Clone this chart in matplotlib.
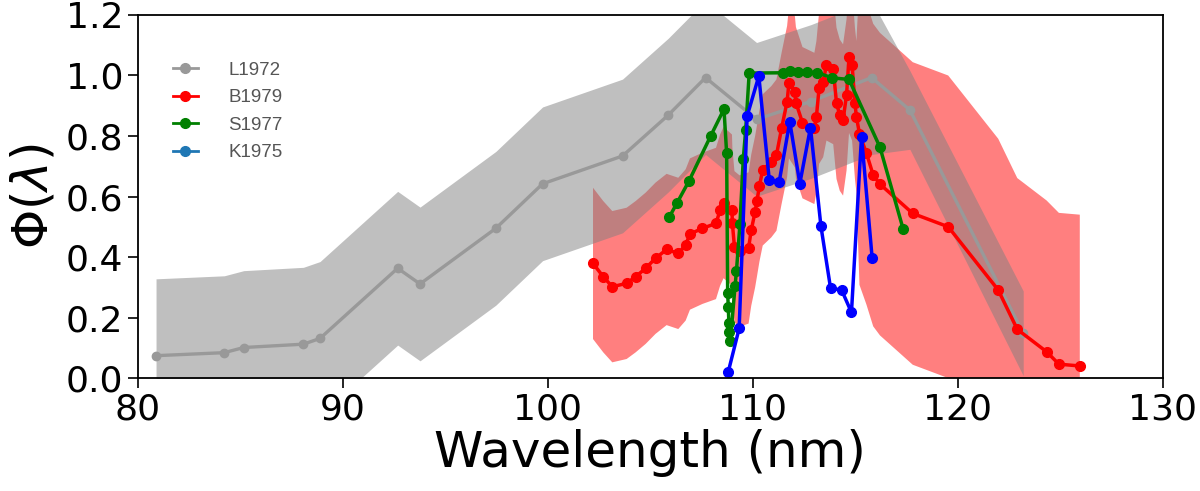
import numpy as np
import matplotlib
matplotlib.use("Agg")
import matplotlib.pyplot as plt
from matplotlib.lines import Line2D

# L1972 (gray) - wavelength, quantum yield, half width of shaded band
wl_L = [80.88, 84.21, 85.16, 88.07, 88.88, 92.67, 93.76, 97.46, 99.74,
        103.64, 105.87, 107.69, 110.18, 112.83, 115.79, 117.66, 123.19]
phi_L = [0.074, 0.084, 0.101, 0.112, 0.131, 0.363, 0.311, 0.495, 0.642,
         0.734, 0.869, 0.993, 0.855, 0.914, 0.993, 0.886, 0.148]
err_L = [0.254, 0.254, 0.254, 0.254, 0.254, 0.254, 0.254, 0.254, 0.254,
         0.254, 0.254, 0.254, 0.254, 0.254, 0.254, 0.13, 0.14]

# B1979 (red)
wl_B = [102.2, 102.7, 103.14, 103.84, 104.28, 104.77, 105.25, 105.79, 106.36,
        106.72, 106.93, 107.54, 108.2, 108.4, 108.57, 108.98, 109.0, 109.1,
        109.35, 109.79, 109.92, 110.11, 110.2, 110.32, 110.48, 110.9, 111.15,
        111.4, 111.67, 111.76, 112.05, 112.1, 112.42, 113.0, 113.1, 113.23,
        113.43, 113.59, 113.92, 114.08, 114.24, 114.4, 114.57, 114.69, 114.84,
        114.98, 115.05, 115.2, 115.54, 115.87, 116.2, 117.8, 119.53, 121.97,
        122.9, 124.33, 124.93, 125.95]
phi_B = [0.379, 0.335, 0.302, 0.313, 0.335, 0.363, 0.396, 0.425, 0.412,
         0.44, 0.476, 0.495, 0.511, 0.555, 0.58, 0.555, 0.511, 0.434,
         0.42, 0.43, 0.489, 0.55, 0.586, 0.635, 0.688, 0.715, 0.737,
         0.825, 0.914, 0.976, 0.946, 0.91, 0.844, 0.825, 0.864, 0.958,
         0.98, 1.035, 1.023, 0.908, 0.869, 0.853, 0.936, 1.06, 1.035,
         0.908, 0.864, 0.808, 0.743, 0.671, 0.641, 0.544, 0.50, 0.291,
         0.161, 0.087, 0.046, 0.04]
err_B = [0.25, 0.25, 0.25, 0.25, 0.25, 0.25, 0.25, 0.25, 0.25,
         0.25, 0.25, 0.25, 0.25, 0.25, 0.25, 0.25, 0.25, 0.25,
         0.25, 0.25, 0.25, 0.25, 0.25, 0.25, 0.25, 0.25, 0.25,
         0.25, 0.25, 0.25, 0.25, 0.25, 0.25, 0.25, 0.25, 0.25,
         0.25, 0.25, 0.25, 0.25, 0.25, 0.25, 0.25, 0.25, 0.25,
         0.25, 0.25, 0.5, 0.5, 0.5, 0.5, 0.5, 0.5, 0.5,
         0.5, 0.5, 0.5, 0.5]

# S1977 (green)
wl_S = [105.92, 106.31, 106.88, 107.94, 108.59, 108.72, 108.77, 108.8, 108.83,
        108.85, 108.9, 109.13, 109.2, 109.37, 109.53, 109.65, 109.82, 111.48,
        111.8, 112.21, 112.62, 113.15, 113.88, 114.69, 116.2, 117.33]
phi_S = [0.532, 0.58, 0.651, 0.80, 0.889, 0.743, 0.28, 0.236, 0.181,
         0.153, 0.122, 0.303, 0.355, 0.51, 0.723, 0.821, 1.008, 1.009,
         1.015, 1.012, 1.012, 1.009, 0.992, 0.987, 0.763, 0.493]

# K1975 (blue)
wl_K = [108.8, 109.33, 109.72, 110.29, 110.8, 111.28, 111.8, 112.29,
        112.81, 113.32, 113.79, 114.33, 114.81, 115.3, 115.82]
phi_K = [0.021, 0.164, 0.866, 0.998, 0.655, 0.647, 0.847, 0.643,
         0.828, 0.502, 0.297, 0.291, 0.217, 0.798, 0.396]

labels = ["L1972", "B1979", "S1977", "K1975"]
legend_colors = ["#999999", "red", "green", "#1f77b4"]

wl_L, phi_L, err_L = np.array(wl_L), np.array(phi_L), np.array(err_L)
wl_B, phi_B, err_B = np.array(wl_B), np.array(phi_B), np.array(err_B)

fig, ax = plt.subplots(figsize=(12, 4.91), dpi=100)
fig.subplots_adjust(left=0.115, right=0.969, bottom=0.23, top=0.9695)

# shaded bands: red first, gray on top
ax.fill_between(wl_B, phi_B - err_B, phi_B + err_B, color="red", alpha=0.5, lw=0)
ax.fill_between(wl_L, phi_L - err_L, phi_L + err_L, color="gray", alpha=0.5, lw=0)

ax.plot(wl_L, phi_L, "-o", color="#999999", lw=2.4, ms=6)
ax.plot(wl_B, phi_B, "-o", color="red", lw=2.5, ms=7)
ax.plot(wl_S, phi_S, "-o", color="green", lw=2.5, ms=7)
ax.plot(wl_K, phi_K, "-o", color="blue", lw=2.5, ms=7)

ax.set_xlim(80, 130)
ax.set_ylim(0, 1.2)
ax.set_xticks([80, 90, 100, 110, 120, 130])
ax.set_yticks([0.0, 0.2, 0.4, 0.6, 0.8, 1.0, 1.2])
ax.set_yticklabels(["0.0", "0.2", "0.4", "0.6", "0.8", "1.0", "1.2"])
ax.tick_params(labelsize=26, length=7, width=1.2)
for s in ax.spines.values():
    s.set_linewidth(1.3)

ax.set_xlabel("Wavelength (nm)", fontsize=36, labelpad=2)
ax.set_ylabel(r"$\Phi(\lambda)$", fontsize=36, labelpad=6)

handles = [Line2D([0], [0], color=c, marker="o", lw=2, ms=7) for c in legend_colors]
leg = ax.legend(handles, labels, loc="upper left", bbox_to_anchor=(0.034, 0.872),
                frameon=False, borderpad=0, borderaxespad=0,
                handlelength=1.35, handletextpad=1.6, labelspacing=0.56,
                prop={"family": "Liberation Sans", "size": 13.5})
for t in leg.get_texts():
    t.set_color("#555555")

plt.savefig("out.png", dpi=100)
